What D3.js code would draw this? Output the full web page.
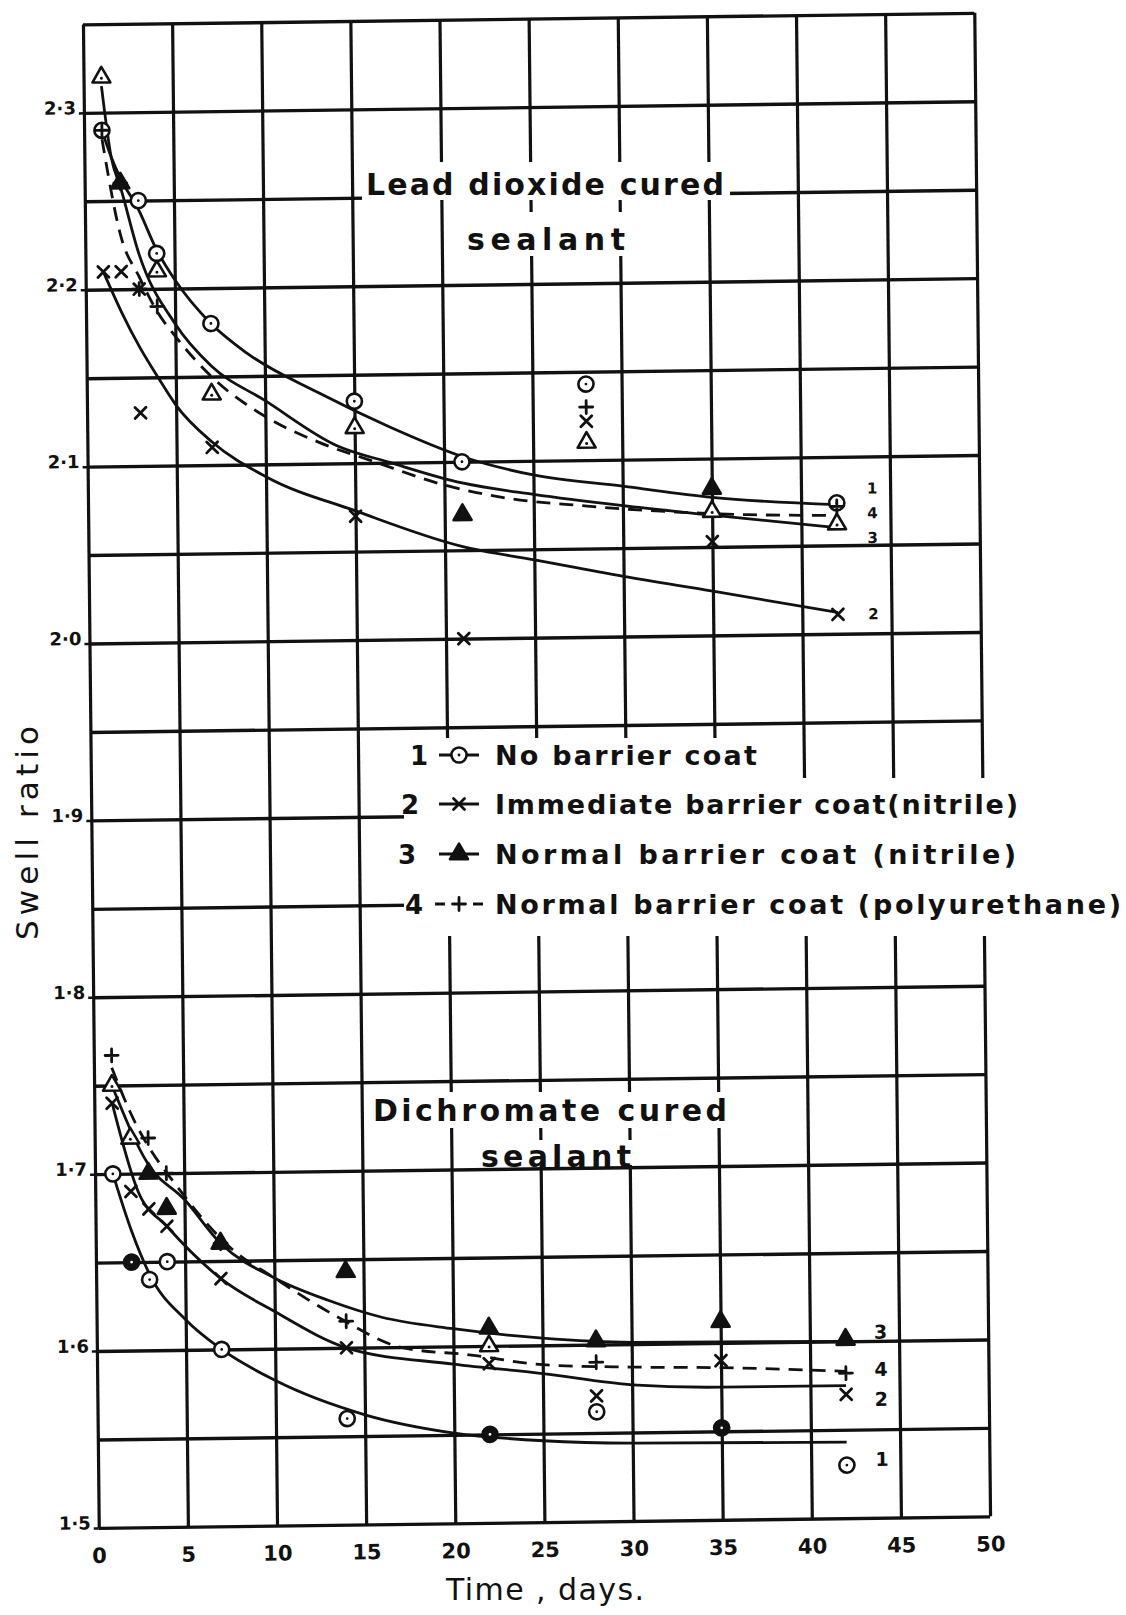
<!DOCTYPE html>
<html>
<head>
<meta charset="utf-8">
<script src="https://cdn.jsdelivr.net/npm/d3@7"></script>
<style>
  body { margin: 0; background: #fff; }
  text { font-family: "DejaVu Sans", sans-serif; fill: #111; }
</style>
</head>
<body>
<svg id="chart" width="1126" height="1615"></svg>
<script>
// ---- axes ----
const xTicks = [0, 5, 10, 15, 20, 25, 30, 35, 40, 45, 50];
const yTicks = [1.5, 1.6, 1.7, 1.8, 1.9, 2.0, 2.1, 2.2, 2.3];
const yTickLabels = ["1·5", "1·6", "1·7", "1·8", "1·9", "2·0", "2·1", "2·2", "2·3"];
const yGrid = d3.range(30, 48).map(k => k / 20);   // every 0.05 from 1.5 to 2.35

// ---- Lead dioxide cured sealant (upper group) ----
const leadNoCoat = [[1, 2.29], [3, 2.25], [4, 2.22], [7, 2.18], [15, 2.135], [21, 2.10], [28, 2.143], [42, 2.074]];
const leadImmediate = [[1, 2.21], [2, 2.21], [3, 2.20], [3, 2.13], [7, 2.11], [15, 2.07], [21, 2.0], [28, 2.122], [35, 2.053], [42, 2.011]];
const leadNitrile = [[1, 2.32], [4, 2.21], [7, 2.14], [15, 2.12], [28, 2.11], [35, 2.07], [42, 2.062]];
const leadNitrileSolid = [[2, 2.26], [21, 2.07], [35, 2.083]];
const leadPoly = [[1, 2.29], [2, 2.26], [3, 2.20], [4, 2.19], [28, 2.13], [42, 2.072]];

// fitted curves as drawn by hand
const leadNoCoatFit = [[1, 2.29], [1.5, 2.275], [2, 2.263], [3, 2.245], [4, 2.222], [5, 2.205], [7, 2.18], [9, 2.163], [13, 2.14], [17, 2.12], [21, 2.103], [25, 2.092], [30, 2.085], [35, 2.078], [42, 2.073]];
const leadImmediateFit = [[1, 2.21], [2, 2.187], [3, 2.167], [4, 2.15], [5, 2.134], [7, 2.113], [10, 2.093], [15, 2.073], [21, 2.052], [25, 2.044], [30, 2.034], [35, 2.025], [42, 2.012]];
const leadNitrileFit = [[1, 2.315], [1.5, 2.275], [2, 2.258], [3, 2.22], [5, 2.18], [7, 2.156], [10, 2.136], [14, 2.11], [17, 2.1], [21, 2.088], [25, 2.081], [30, 2.074], [35, 2.068], [42, 2.06]];
const leadPolyFit = [[1, 2.285], [2, 2.23], [3, 2.207], [4, 2.187], [5, 2.173], [7, 2.15], [10, 2.127], [13, 2.112], [16, 2.101], [20, 2.087], [23, 2.08], [28, 2.074], [33, 2.07], [37, 2.068], [42, 2.067]];

const leadEndNames = ["1", "4", "3", "2"];
const leadEndValues = [2.082, 2.068, 2.054, 2.011];

// ---- Dichromate cured sealant (lower group) ----
const dichNoCoat = [[1, 1.70], [3, 1.64], [4, 1.65], [7, 1.60], [14, 1.56], [28, 1.562], [42, 1.53]];
const dichNoCoatSolid = [[2, 1.65], [22, 1.55], [35, 1.552]];
const dichImmediate = [[1, 1.74], [2, 1.69], [3, 1.68], [4, 1.67], [7, 1.64], [14, 1.60], [22, 1.59], [28, 1.571], [35, 1.59], [42, 1.57]];
const dichNitrile = [[1, 1.75], [2, 1.72], [22, 1.60]];
const dichNitrileSolid = [[3, 1.70], [4, 1.68], [7, 1.66], [14, 1.643], [22, 1.61], [28, 1.602], [35, 1.612], [42, 1.601]];
const dichPoly = [[1, 1.767], [3, 1.72], [4, 1.70], [7, 1.66], [14, 1.615], [28, 1.59], [42, 1.582]];

const dichNoCoatFit = [[1, 1.70], [2, 1.668], [3, 1.643], [5, 1.617], [7, 1.60], [10, 1.582], [15, 1.562], [20, 1.551], [25, 1.546], [30, 1.544], [42, 1.543]];
const dichImmediateFit = [[1, 1.74], [2.4, 1.69], [4, 1.67], [7, 1.64], [10, 1.621], [14, 1.60], [20, 1.59], [25, 1.584], [30, 1.577], [35, 1.575], [42, 1.575]];
const dichNitrileFit = [[1, 1.75], [3, 1.705], [5, 1.685], [7, 1.66], [10, 1.64], [13, 1.627], [16, 1.617], [20, 1.61], [25, 1.604], [30, 1.601], [42, 1.60]];
const dichPolyFit = [[1, 1.76], [2, 1.735], [5, 1.687], [7.6, 1.657], [10, 1.64], [13.6, 1.617], [17, 1.60], [21, 1.595], [25, 1.589], [30, 1.587], [35, 1.586], [42, 1.583]];

const dichEndNames = ["3", "4", "2", "1"];
const dichEndValues = [1.605, 1.584, 1.567, 1.533];

// ---- legend ----
const legendNumbers = ["1", "2", "3", "4"];
const legendNames = ["No barrier coat", "Immediate barrier coat(nitrile)", "Normal barrier coat (nitrile)", "Normal barrier coat (polyurethane)"];
const legendKinds = ["circle", "times", "triangle", "plus"];

// ---------------------------------------------------------------
const svg = d3.select("#chart");
const x = d3.scaleLinear().domain([0, 50]).range([82.7, 974]);
const y = d3.scaleLinear().domain([1.5, 2.35]).range([1529, 25.5]);
// the paper grid was drawn slightly askew
const skew = "matrix(1,-0.013,0.0105,1,0,0)";
const ink = "#111";

const gridG = svg.append("g").attr("transform", skew);

// horizontal grid lines
gridG.append("g")
    .attr("transform", `translate(${x(0)},0)`)
    .call(d3.axisLeft(y).tickValues(yGrid).tickSize(-(x(50) - x(0))).tickFormat(""))
    .call(g => g.select(".domain").remove())
    .selectAll("line").attr("stroke", ink).attr("stroke-width", 3.4);

// vertical grid lines
gridG.append("g")
    .attr("transform", `translate(0,${y(1.5)})`)
    .call(d3.axisBottom(x).tickValues(xTicks).tickSize(-(y(1.5) - y(2.35))).tickFormat(""))
    .call(g => g.select(".domain").remove())
    .selectAll("line").attr("stroke", ink).attr("stroke-width", 3.2);

// tick labels
gridG.append("g")
    .attr("transform", `translate(${x(0)},0)`)
    .call(d3.axisLeft(y).tickValues(yTicks).tickSize(5).tickPadding(3)
        .tickFormat((d, i) => yTickLabels[i]))
    .call(g => g.select(".domain").remove())
    .call(g => g.selectAll("line").attr("stroke", ink).attr("stroke-width", 2.5))
    .call(g => g.selectAll("text")
        .attr("dy", "0.05em")
        .style("font-size", "18px").style("font-weight", "bold").attr("fill", ink));

gridG.append("g")
    .attr("transform", `translate(0,${y(1.5)})`)
    .call(d3.axisBottom(x).tickValues(xTicks).tickSize(0).tickPadding(20))
    .call(g => g.select(".domain").remove())
    .call(g => g.selectAll("text")
        .style("font-size", "21px").style("font-weight", "bold").attr("fill", ink));

// white patches where the lettering sits over the grid
const patches = [
    [362, 162, 368, 38], [462, 212, 168, 44],          // lead dioxide title
    [368, 1092, 362, 36], [478, 1140, 156, 25],         // dichromate title
    [404, 738, 362, 40], [404, 778, 722, 158]           // legend
];
svg.append("g").selectAll("rect").data(patches).enter().append("rect")
    .attr("x", d => d[0]).attr("y", d => d[1])
    .attr("width", d => d[2]).attr("height", d => d[3])
    .attr("fill", "#fff");

// titles
function label(txt, px, py, size, len, weight) {
    return svg.append("text").attr("x", px).attr("y", py)
        .style("font-size", size + "px")
        .style("font-weight", weight || "bold")
        .attr("textLength", len).attr("lengthAdjust", "spacing")
        .text(txt);
}
label("Lead dioxide cured", 366, 195, 30, 358);
label("sealant", 467, 250, 30, 158);
label("Dichromate cured", 373, 1121, 30, 354);
label("sealant", 481, 1167, 30, 150);
label("Time , days.", 446, 1600, 30, 198, "normal");

svg.append("text")
    .attr("transform", "translate(38,833) rotate(-90)")
    .attr("text-anchor", "middle")
    .style("font-size", "31px")
    .attr("textLength", 214).attr("lengthAdjust", "spacing")
    .text("Swell ratio");

// ---- markers ----
const circleSym = d3.symbol(d3.symbolCircle, 180);
const triSym = d3.symbol(d3.symbolTriangle, 140);
const crossPath = s => `M${-s},${-s}L${s},${s}M${-s},${s}L${s},${-s}`;
const plusPath = s => `M${-s},0L${s},0M0,${-s}L0,${s}`;

function marker(g, kind, solid) {
    if (kind === "circle") {
        g.append("path").attr("d", circleSym())
            .attr("fill", solid ? ink : "#fff").attr("stroke", ink).attr("stroke-width", 2.6);
        g.append("circle").attr("r", 1.4).attr("fill", solid ? "#fff" : ink);
    } else if (kind === "triangle") {
        g.append("path").attr("d", triSym())
            .attr("fill", solid ? ink : "#fff").attr("stroke", ink)
            .attr("stroke-width", 2.6).attr("stroke-linejoin", "round");
        if (!solid) g.append("circle").attr("cy", 1).attr("r", 1.5).attr("fill", ink);
    } else if (kind === "times") {
        g.append("path").attr("d", crossPath(5.5))
            .attr("stroke", ink).attr("stroke-width", 2.8).attr("stroke-linecap", "round");
    } else {
        g.append("path").attr("d", plusPath(6.5))
            .attr("stroke", ink).attr("stroke-width", 2.8).attr("stroke-linecap", "round");
    }
}

const dataG = svg.append("g").attr("transform", skew);
const line = d3.line().x(d => x(d[0])).y(d => y(d[1])).curve(d3.curveMonotoneX);

const fits = [
    [leadNoCoatFit, false], [leadImmediateFit, false], [leadNitrileFit, false], [leadPolyFit, true],
    [dichNoCoatFit, false], [dichImmediateFit, false], [dichNitrileFit, false], [dichPolyFit, true]
];
fits.forEach(([pts, dashed]) => {
    dataG.append("path").datum(pts)
        .attr("d", line)
        .attr("fill", "none").attr("stroke", ink)
        .attr("stroke-width", 2.8)
        .attr("stroke-dasharray", dashed ? "14,9" : null);
});

const pointSets = [
    [leadNoCoat, "circle", false], [leadNitrile, "triangle", false], [leadNitrileSolid, "triangle", true],
    [leadImmediate, "times", false], [leadPoly, "plus", false],
    [dichNoCoat, "circle", false], [dichNoCoatSolid, "circle", true],
    [dichNitrile, "triangle", false], [dichNitrileSolid, "triangle", true],
    [dichImmediate, "times", false], [dichPoly, "plus", false]
];
pointSets.forEach(([pts, kind, solid]) => {
    dataG.append("g").selectAll("g").data(pts).enter().append("g")
        .attr("transform", d => `translate(${x(d[0])},${y(d[1])})`)
        .each(function () { marker(d3.select(this), kind, solid); });
});

// curve numbers at the right-hand ends
function endLabels(names, values, day, size) {
    dataG.append("g").selectAll("text").data(names).enter().append("text")
        .attr("x", x(day)).attr("y", (d, i) => y(values[i]))
        .attr("dy", "0.35em")
        .style("font-size", size + "px").style("font-weight", "bold")
        .text(d => d);
}
endLabels(leadEndNames, leadEndValues, 43.7, 15);
endLabels(dichEndNames, dichEndValues, 43.6, 19);

// ---- legend ----
const rowY = [765, 814, 864, 914];
const numX = [410, 401, 398, 405];
const textW = [262, 523, 521, 626];
const lg = svg.append("g");
legendNames.forEach((name, i) => {
    const by = rowY[i];
    lg.append("text").attr("x", numX[i]).attr("y", by)
        .style("font-size", "26px").style("font-weight", "bold").text(legendNumbers[i]);
    const mx = 459, my = by - 10;
    if (legendKinds[i] === "plus") {
        lg.append("path").attr("d", `M${mx - 24},${my}L${mx - 14},${my}M${mx + 14},${my}L${mx + 24},${my}`)
            .attr("stroke", ink).attr("stroke-width", 3);
    } else {
        lg.append("path").attr("d", `M${mx - 20},${my}L${mx + 20},${my}`)
            .attr("stroke", ink).attr("stroke-width", 3);
    }
    const m = lg.append("g").attr("transform", `translate(${mx},${my})`);
    marker(m, legendKinds[i], legendKinds[i] === "triangle");
    lg.append("text").attr("x", 495).attr("y", by)
        .style("font-size", "27px").style("font-weight", "bold")
        .attr("textLength", textW[i]).attr("lengthAdjust", "spacing")
        .text(name);
});
</script>
</body>
</html>
